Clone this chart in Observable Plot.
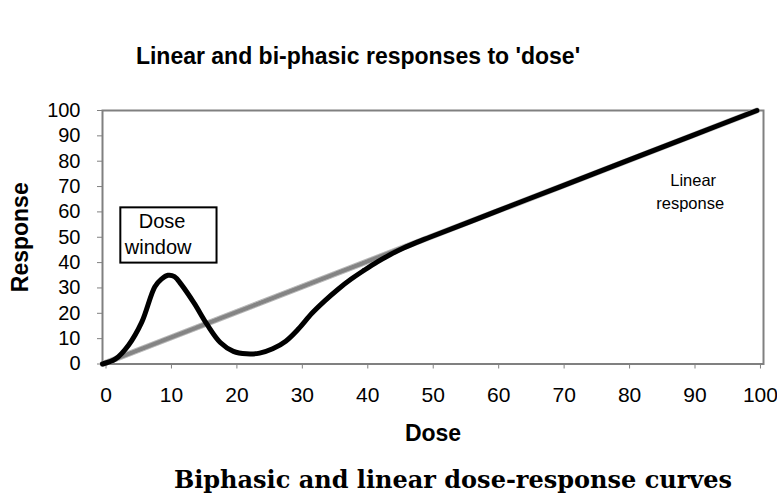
<!DOCTYPE html>
<html><head><meta charset="utf-8">
<script src="https://cdn.jsdelivr.net/npm/d3@7"></script>
<script src="https://cdn.jsdelivr.net/npm/@observablehq/plot@0.6"></script>
<style>
body{margin:0;background:#fff;}
#wrap{position:relative;width:777px;height:496px;overflow:hidden;font-family:"Liberation Sans",Arial,sans-serif;}
#title{position:absolute;left:358px;top:45px;transform:translateX(-50%);white-space:nowrap;font-size:23px;line-height:1;font-weight:bold;color:#000;}
#caption{position:absolute;left:453px;top:468px;transform:translateX(-50%);white-space:nowrap;font-family:"DejaVu Serif",serif;font-size:24px;line-height:1;font-weight:bold;color:#000;}
#chart{position:absolute;left:0;top:0;}
g[aria-label="x-axis label"] text, g[aria-label="y-axis label"] text{font-size:23px;font-weight:bold;}
</style>
</head><body>
<div id="wrap">
  <div id="chart"></div>
  <div id="title">Linear and bi-phasic responses to 'dose'</div>
  <div id="caption">Biphasic and linear dose-response curves</div>
</div>
<script>
// Tick labels
const xTicks = [0,10,20,30,40,50,60,70,80,90,100];
const yTicks = [0,10,20,30,40,50,60,70,80,90,100];

// Linear response (dose = response)
const linearDose = [0, 100];
const linearResponse = [0, 100];

// Bi-phasic response
const biDose = [0,2,4,6,8,9,10,11,12,14,16,18,20,22,24,26,28,30,32,34,36,38,40,42,44,46,48,50,60,70,80,90,100];
const biResponse = [0,2,7.5,16.5,30.5,33.5,35,34.5,31.5,24,15.5,8.5,5,4,4.3,6,9,14,20,25,29.5,33.5,37,40.3,43.2,45.8,48,50,60,70,80,90,100];

// Annotations (data coordinates)
const windowBox = [{x1: 2.8, x2: 17.5, y1: 39.8, y2: 61.6}];
const windowText = ["Dose", "window"];
const windowX = [9.1, 8.5];
const windowY = [56.3, 46.1];
const linearText = ["Linear", "response"];
const linearX = [90.25, 89.8];
const linearY = [72.4, 63.3];

const linearData = linearDose.map((d, i) => ({dose: d, response: linearResponse[i]}));
const biData = biDose.map((d, i) => ({dose: d, response: biResponse[i]}));
const winLabels = windowText.map((t, i) => ({t, x: windowX[i], y: windowY[i]}));
const linLabels = linearText.map((t, i) => ({t, x: linearX[i], y: linearY[i]}));

const chart = Plot.plot({
  width: 777,
  height: 496,
  marginLeft: 102,
  marginRight: 14,
  marginTop: 110,
  marginBottom: 132.5,
  style: {fontFamily: "Liberation Sans, Arial, sans-serif", background: "transparent", color: "#000"},
  x: {domain: [0, 101]},
  y: {domain: [0, 100]},
  marks: [
    Plot.axisY({ticks: yTicks, tickSize: 5, tickPadding: 17, fontSize: 20, stroke: "#808080", fill: "#000",
      label: "Response", labelAnchor: "center", labelArrow: "none", labelOffset: 91}),
    Plot.axisX({ticks: xTicks, tickSize: 5, tickPadding: 18, fontSize: 21, dx: 3.5, stroke: "#808080", fill: "#000",
      label: "Dose", labelAnchor: "center", labelArrow: "none", labelOffset: 77}),
    Plot.frame({stroke: "#808080", strokeWidth: 2}),
    Plot.line(linearData, {x: "dose", y: "response", stroke: "#b8b8b8", strokeWidth: 6}),
    Plot.line(linearData, {x: "dose", y: "response", stroke: "#5a5a5a", strokeWidth: 4, strokeDasharray: "1,1.8", strokeOpacity: 0.55}),
    Plot.line(biData, {x: "dose", y: "response", stroke: "#000", strokeWidth: 5, curve: "catmull-rom"}),
    Plot.rect(windowBox, {x1: "x1", x2: "x2", y1: "y1", y2: "y2", fill: "#fff", stroke: "#000", strokeWidth: 2}),
    Plot.text(winLabels, {x: "x", y: "y", text: "t", fontSize: 20, fill: "#000"}),
    Plot.text(linLabels, {x: "x", y: "y", text: "t", fontSize: 16.5, fill: "#000"})
  ]
});
document.getElementById("chart").appendChild(chart);
</script>
</body></html>
